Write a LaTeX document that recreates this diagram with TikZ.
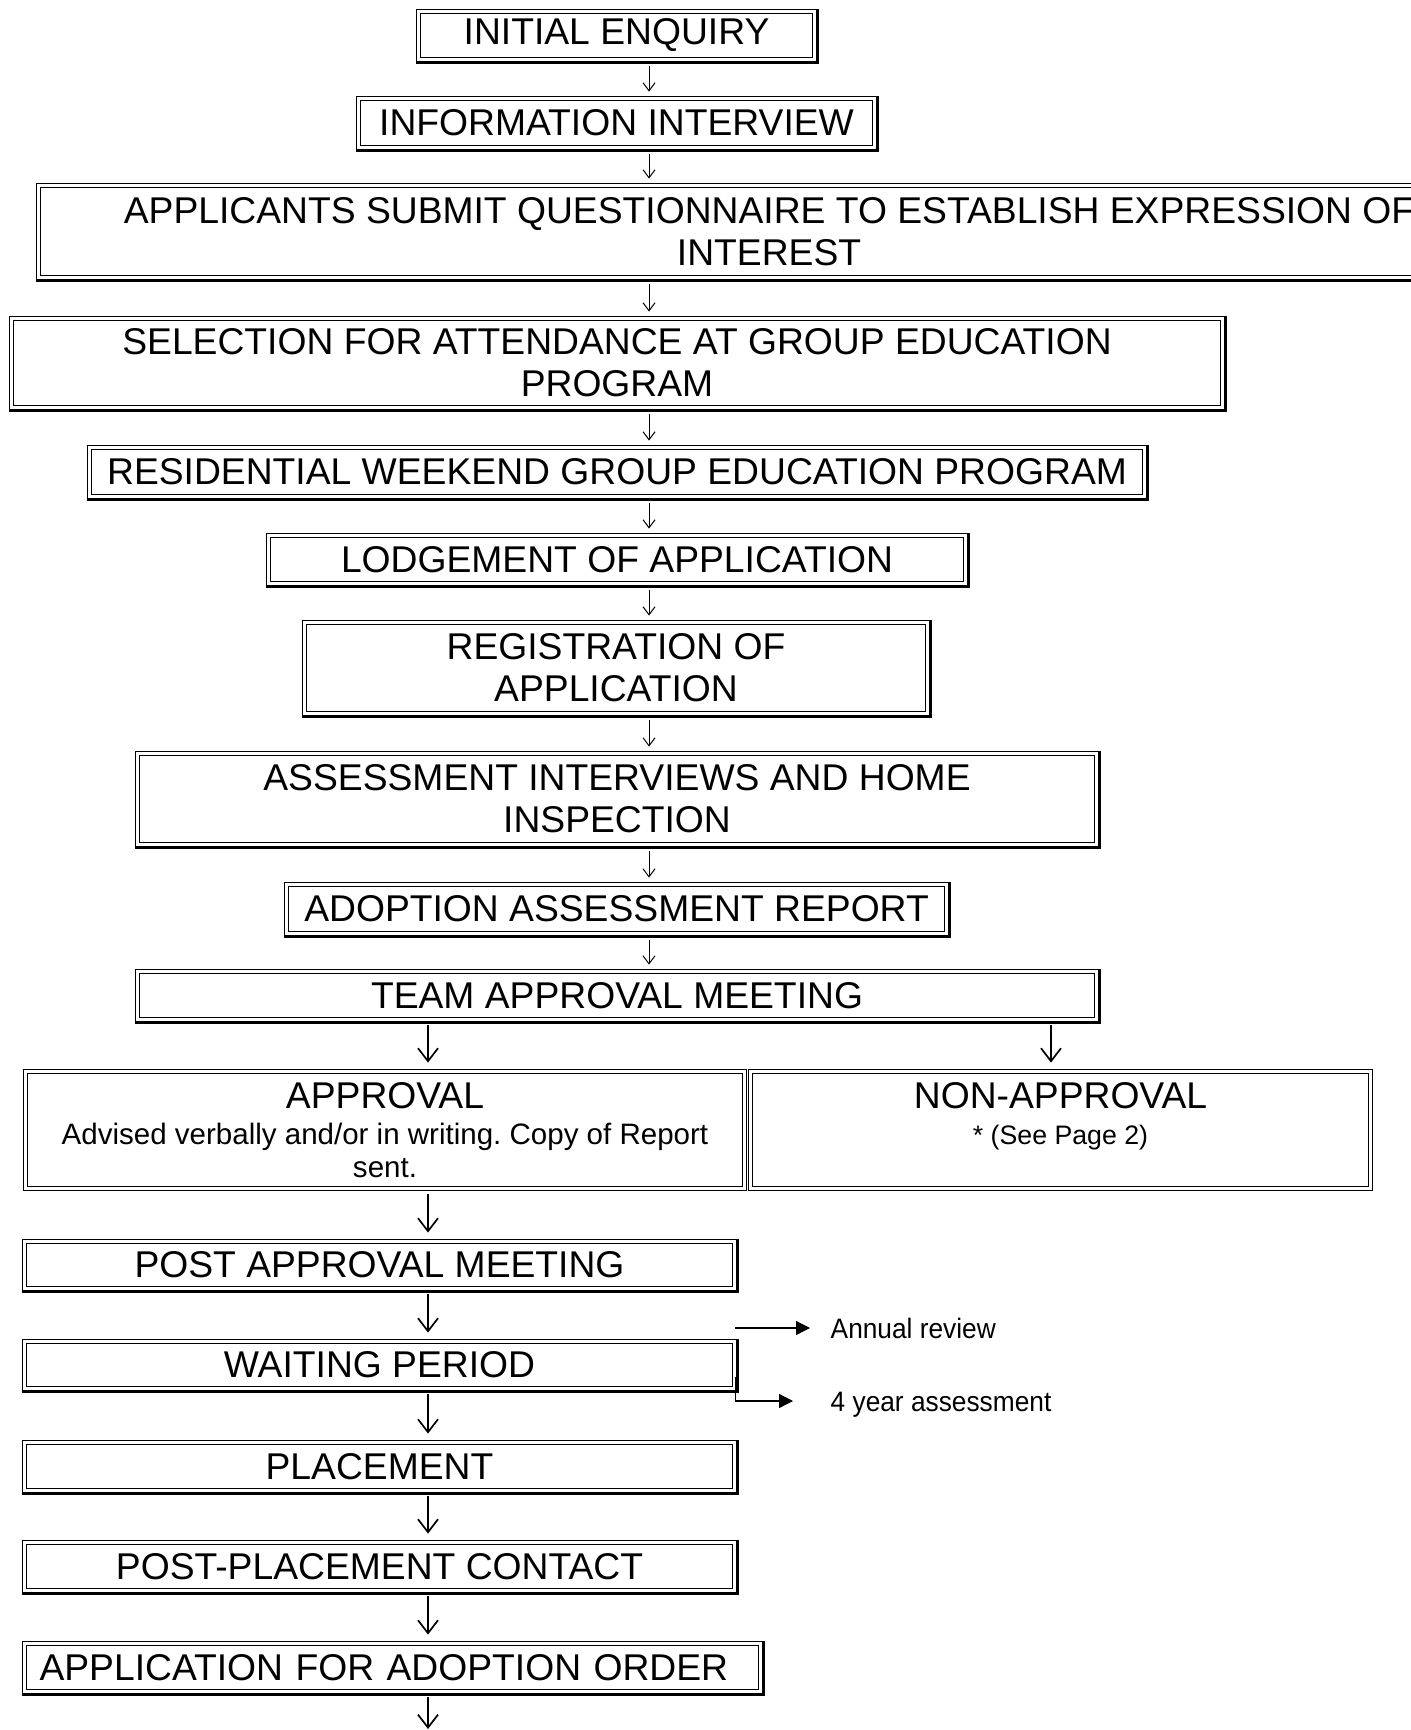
\documentclass[tikz,border=0pt]{standalone}
\usepackage{fontspec}
\setmainfont{Liberation Sans}
\newfontfamily\narrowfont[FakeStretch=0.935]{Liberation Sans}
\usetikzlibrary{arrows.meta}
\newcommand{\subtext}{\fontsize{8.4}{9.4}\selectfont}
\newcommand{\pagetext}{\fontsize{7.6}{9.4}\selectfont}
\frenchspacing

\begin{document}
\begin{tikzpicture}[
        stage/.style={draw, double, double distance=0.022cm, line width=0.018cm,
            inner sep=0pt, align=center, font=\fontsize{10.6}{12}\selectfont},
        heavy/.style={line width=0.025cm},
        flow/.style={-{Straight Barb[length=0.08cm,width=0.12cm]}, line width=0.01cm,
            shorten <=0.06cm, shorten >=0.06cm},
        bigflow/.style={-{Straight Barb[length=0.13cm,width=0.2cm]}, line width=0.017cm,
            shorten <=0.05cm, shorten >=0.08cm},
        side/.style={-{Triangle[length=0.14cm,width=0.14cm]}, line width=0.012cm},
        note/.style={anchor=west, inner sep=0pt, text height=5.7pt, text depth=0pt,
            font=\narrowfont\fontsize{8}{9.6}\selectfont}
    ]
    \useasboundingbox (0,0) rectangle (14.1,-17.3);

    % 矢印の列
    \coordinate (c1) at (6.49,0);
    \coordinate (c2) at (4.28,0);
    \coordinate (c3) at (10.51,0);

    \node[stage, minimum width=3.96cm, minimum height=0.48cm] (enq) at (6.165,-0.355) {INITIAL ENQUIRY};
    \node[stage, minimum width=5.16cm, minimum height=0.49cm] (info) at (6.165,-1.23) {INFORMATION INTERVIEW};
    \node[stage, minimum width=14.61cm, minimum height=0.92cm] (quest) at (7.69,-2.315)
        {APPLICANTS SUBMIT QUESTIONNAIRE TO ESTABLISH EXPRESSION OF\\INTEREST};
    \node[stage, minimum width=12.11cm, minimum height=0.89cm] (sel) at (6.17,-3.63)
        {SELECTION FOR ATTENDANCE AT GROUP EDUCATION\\PROGRAM};
    \node[stage, minimum width=10.55cm, minimum height=0.49cm] (res) at (6.17,-4.72)
        {RESIDENTIAL WEEKEND GROUP EDUCATION PROGRAM};
    \node[stage, minimum width=6.97cm, minimum height=0.48cm] (lodge) at (6.17,-5.595) {LODGEMENT OF APPLICATION};
    \node[stage, minimum width=6.23cm, minimum height=0.91cm] (reg) at (6.16,-6.68) {REGISTRATION OF\\APPLICATION};
    \node[stage, minimum width=9.59cm, minimum height=0.91cm] (assess) at (6.17,-7.99)
        {ASSESSMENT INTERVIEWS AND HOME\\INSPECTION};
    \node[stage, minimum width=6.60cm, minimum height=0.49cm] (report) at (6.165,-9.09) {ADOPTION ASSESSMENT REPORT};
    \node[stage, minimum width=9.59cm, minimum height=0.48cm] (team) at (6.17,-9.955) {TEAM APPROVAL MEETING};

    \node[stage, minimum width=7.19cm, minimum height=1.17cm] (appr) at (3.85,-11.30)
        {APPROVAL\\[-1.6pt]\subtext Advised verbally and/or in writing. Copy of Report\\[-2.6pt]\subtext sent.};
    \node[stage, minimum width=6.20cm, minimum height=1.17cm] (nonappr) at (10.605,-11.30)
        {NON-APPROVAL\\[-1.6pt]\pagetext * (See Page 2)\\[-2.6pt]\pagetext ~};

    \node[stage, minimum width=7.10cm, minimum height=0.47cm] (post) at (3.795,-12.65) {POST APPROVAL MEETING};
    \node[stage, minimum width=7.10cm, minimum height=0.47cm] (wait) at (3.795,-13.65) {WAITING PERIOD};
    \node[stage, minimum width=7.10cm, minimum height=0.48cm] (place) at (3.795,-14.665) {PLACEMENT};
    \node[stage, minimum width=7.10cm, minimum height=0.48cm] (contact) at (3.795,-15.665) {POST-PLACEMENT CONTACT};
    \node[stage, text width=7.06cm, align=left, inner xsep=0.15cm, minimum height=0.48cm] (order) at (3.925,-16.675)
        {APPLICATION FOR ADOPTION ORDER};
    \coordinate (tail) at (4.28,-17.29);

    % 右下の太い線
    \foreach \n in {enq,info,quest,sel,res,lodge,reg,assess,report,team,post,wait,place,contact,order}
        \draw[heavy] ([shift={(-0.02,-0.0235)}]\n.south west) -- ([shift={(0.0235,-0.0235)}]\n.south east)
            -- ([shift={(0.0235,0.02)}]\n.north east);

    \node[note] (annual) at (8.30,-13.28) {Annual review};
    \node[note] (fouryr) at (8.30,-14.01) {4 year assessment};

    % 上の矢印
    \draw[flow] (enq.south -| c1) -- (info.north -| c1);
    \draw[flow] (info.south -| c1) -- (quest.north -| c1);
    \draw[flow] (quest.south -| c1) -- (sel.north -| c1);
    \draw[flow] (sel.south -| c1) -- (res.north -| c1);
    \draw[flow] (res.south -| c1) -- (lodge.north -| c1);
    \draw[flow] (lodge.south -| c1) -- (reg.north -| c1);
    \draw[flow] (reg.south -| c1) -- (assess.north -| c1);
    \draw[flow] (assess.south -| c1) -- (report.north -| c1);
    \draw[flow] (report.south -| c1) -- (team.north -| c1);

    % 下の矢印
    \draw[bigflow] (team.south -| c2) -- (appr.north -| c2);
    \draw[bigflow] (team.south -| c3) -- (nonappr.north -| c3);
    \draw[bigflow] (appr.south -| c2) -- (post.north -| c2);
    \draw[bigflow] (post.south -| c2) -- (wait.north -| c2);
    \draw[bigflow] (wait.south -| c2) -- (place.north -| c2);
    \draw[bigflow] (place.south -| c2) -- (contact.north -| c2);
    \draw[bigflow] (contact.south -| c2) -- (order.north -| c2);
    \draw[bigflow, shorten >=0pt] (order.south -| c2) -- (tail);

    \draw[side, shorten >=0.2cm] (annual.west -| wait.east) -- (annual.west);
    \draw[side, shorten >=0.37cm] ([yshift=-0.12cm]wait.east) |- (fouryr.west);
\end{tikzpicture}
\end{document}
